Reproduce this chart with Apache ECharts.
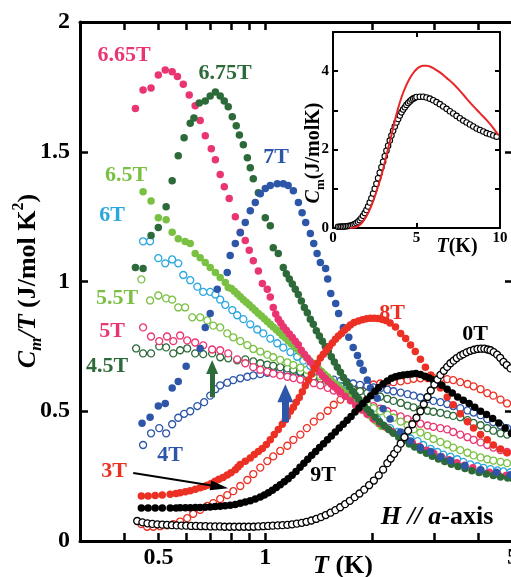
<!DOCTYPE html>
<html>
<head>
<meta charset="utf-8">
<script src="https://cdn.jsdelivr.net/npm/echarts@6/dist/echarts.min.js"></script>
<style>
html, body { margin: 0; padding: 0; background: #fff; }
#chart { width: 511px; height: 577px; }
</style>
</head>
<body>
<div id="chart"></div>
<script>
// Magnetic specific heat Cm/T versus T (log scale) for fields H // a-axis, [T (K), Cm/T (J/mol K^2)]
const h0T = [[0.435,0.077],[0.450,0.072],[0.465,0.068],[0.480,0.066],[0.496,0.064],[0.512,0.063],[0.528,0.062],[0.545,0.061],[0.562,0.060],[0.580,0.059],[0.598,0.059],[0.617,0.058],[0.637,0.058],[0.657,0.057],[0.678,0.057],[0.700,0.056],[0.722,0.056],[0.745,0.056],[0.768,0.055],[0.793,0.055],[0.818,0.055],[0.844,0.055],[0.871,0.055],[0.898,0.055],[0.927,0.055],[0.956,0.056],[0.987,0.057],[1.018,0.058],[1.050,0.059],[1.084,0.060],[1.118,0.061],[1.154,0.062],[1.190,0.064],[1.228,0.067],[1.267,0.070],[1.307,0.074],[1.349,0.079],[1.392,0.085],[1.436,0.092],[1.481,0.100],[1.528,0.109],[1.577,0.119],[1.627,0.130],[1.679,0.142],[1.732,0.155],[1.787,0.169],[1.844,0.183],[1.902,0.198],[1.963,0.215],[2.025,0.233],[2.090,0.253],[2.150,0.275],[2.210,0.300],[2.260,0.318],[2.310,0.336],[2.360,0.355],[2.410,0.375],[2.470,0.400],[2.530,0.425],[2.600,0.450],[2.670,0.475],[2.740,0.500],[2.800,0.527],[2.870,0.555],[2.930,0.580],[3.000,0.603],[3.060,0.622],[3.120,0.640],[3.190,0.656],[3.260,0.671],[3.330,0.685],[3.400,0.695],[3.470,0.705],[3.550,0.714],[3.620,0.720],[3.700,0.727],[3.790,0.733],[3.880,0.737],[3.970,0.740],[4.060,0.741],[4.150,0.741],[4.240,0.738],[4.320,0.735],[4.410,0.728],[4.510,0.718],[4.600,0.706],[4.700,0.690],[4.800,0.678],[4.920,0.665]];
const h3T = [[0.447,0.065],[0.464,0.055],[0.483,0.055],[0.505,0.057],[0.528,0.060],[0.550,0.065],[0.575,0.075],[0.602,0.088],[0.626,0.105],[0.655,0.120],[0.686,0.135],[0.713,0.146],[0.746,0.162],[0.781,0.177],[0.812,0.192],[0.850,0.212],[0.890,0.235],[0.925,0.258],[0.968,0.283],[1.013,0.308],[1.053,0.326],[1.102,0.347],[1.154,0.367],[1.200,0.390],[1.256,0.410],[1.310,0.435],[1.370,0.460],[1.430,0.480],[1.500,0.502],[1.560,0.525],[1.630,0.545],[1.700,0.562],[1.770,0.575],[1.850,0.588],[1.940,0.597],[2.020,0.603],[2.110,0.607],[2.210,0.610],[2.300,0.612],[2.410,0.615],[2.520,0.620],[2.620,0.625],[2.740,0.627],[2.870,0.628],[2.980,0.628],[3.120,0.626],[3.260,0.624],[3.390,0.620],[3.550,0.612],[3.720,0.605],[3.870,0.596],[4.050,0.585],[4.230,0.570],[4.400,0.560],[4.610,0.545],[4.810,0.530]];
const h4T = [[0.452,0.370],[0.476,0.415],[0.502,0.435],[0.525,0.415],[0.546,0.450],[0.568,0.475],[0.590,0.490],[0.614,0.500],[0.643,0.520],[0.672,0.535],[0.699,0.560],[0.723,0.585],[0.746,0.600],[0.781,0.610],[0.812,0.620],[0.850,0.627],[0.890,0.633],[0.925,0.638],[0.968,0.643],[1.013,0.648],[1.053,0.652],[1.102,0.655],[1.154,0.655],[1.200,0.652],[1.256,0.648],[1.310,0.643],[1.370,0.638],[1.430,0.632],[1.500,0.627],[1.560,0.622],[1.630,0.617],[1.700,0.612],[1.770,0.607],[1.850,0.602],[1.940,0.597],[2.020,0.592],[2.110,0.588],[2.210,0.583],[2.300,0.577],[2.410,0.572],[2.520,0.566],[2.620,0.560],[2.740,0.553],[2.870,0.547],[2.980,0.540],[3.120,0.535],[3.260,0.528],[3.390,0.520],[3.550,0.512],[3.720,0.503],[3.870,0.495],[4.050,0.485],[4.230,0.470],[4.400,0.458],[4.610,0.445],[4.810,0.435]];
const h45T = [[0.432,0.742],[0.452,0.723],[0.476,0.723],[0.502,0.750],[0.525,0.746],[0.550,0.723],[0.575,0.735],[0.602,0.742],[0.634,0.723],[0.668,0.720],[0.708,0.723],[0.746,0.708],[0.786,0.704],[0.833,0.696],[0.878,0.700],[0.925,0.692],[0.968,0.685],[1.013,0.680],[1.053,0.675],[1.102,0.670],[1.154,0.665],[1.200,0.660],[1.256,0.652],[1.310,0.643],[1.370,0.635],[1.430,0.625],[1.500,0.615],[1.560,0.605],[1.630,0.597],[1.700,0.590],[1.770,0.583],[1.850,0.577],[1.940,0.570],[2.020,0.563],[2.110,0.556],[2.210,0.548],[2.300,0.540],[2.410,0.532],[2.520,0.522],[2.620,0.515],[2.740,0.508],[2.870,0.502],[2.980,0.498],[3.120,0.494],[3.260,0.488],[3.390,0.482],[3.550,0.477],[3.720,0.466],[3.870,0.455],[4.050,0.446],[4.230,0.435],[4.400,0.425],[4.610,0.415],[4.810,0.410]];
const h5T = [[0.452,0.823],[0.476,0.788],[0.502,0.770],[0.528,0.788],[0.550,0.770],[0.575,0.792],[0.602,0.773],[0.634,0.765],[0.668,0.754],[0.708,0.738],[0.746,0.735],[0.786,0.723],[0.833,0.700],[0.878,0.685],[0.925,0.670],[0.968,0.660],[1.013,0.652],[1.053,0.645],[1.102,0.638],[1.154,0.633],[1.200,0.628],[1.256,0.622],[1.310,0.615],[1.370,0.608],[1.430,0.600],[1.500,0.590],[1.560,0.580],[1.630,0.570],[1.700,0.560],[1.770,0.550],[1.850,0.540],[1.940,0.530],[2.020,0.520],[2.110,0.510],[2.210,0.500],[2.300,0.490],[2.410,0.480],[2.520,0.470],[2.620,0.460],[2.740,0.452],[2.870,0.445],[2.980,0.440],[3.120,0.435],[3.260,0.430],[3.390,0.420],[3.550,0.410],[3.720,0.400],[3.870,0.390],[4.050,0.380],[4.230,0.370],[4.400,0.360],[4.610,0.350],[4.810,0.343]];
const h55T = [[0.447,1.008],[0.473,0.927],[0.499,0.946],[0.525,0.935],[0.546,0.930],[0.568,0.900],[0.594,0.900],[0.622,0.862],[0.655,0.862],[0.686,0.850],[0.713,0.830],[0.746,0.823],[0.781,0.800],[0.812,0.785],[0.850,0.770],[0.890,0.755],[0.925,0.740],[0.968,0.730],[1.013,0.718],[1.053,0.708],[1.102,0.698],[1.154,0.688],[1.200,0.678],[1.256,0.668],[1.310,0.660],[1.370,0.650],[1.430,0.635],[1.500,0.615],[1.560,0.600],[1.630,0.585],[1.700,0.570],[1.770,0.555],[1.850,0.540],[1.940,0.525],[2.020,0.512],[2.110,0.500],[2.210,0.487],[2.300,0.475],[2.410,0.460],[2.520,0.445],[2.620,0.430],[2.740,0.418],[2.870,0.405],[2.980,0.393],[3.120,0.382],[3.260,0.372],[3.390,0.360],[3.550,0.350],[3.720,0.340],[3.870,0.330],[4.050,0.322],[4.230,0.315],[4.400,0.310],[4.610,0.305],[4.810,0.300]];
const h6T = [[0.452,1.155],[0.473,1.155],[0.499,1.090],[0.522,1.070],[0.546,1.085],[0.568,1.070],[0.587,1.025],[0.614,1.005],[0.643,0.980],[0.668,0.960],[0.699,0.960],[0.723,0.950],[0.746,0.930],[0.771,0.910],[0.807,0.890],[0.833,0.870],[0.867,0.855],[0.907,0.835],[0.949,0.815],[0.987,0.800],[1.033,0.780],[1.081,0.762],[1.124,0.745],[1.177,0.728],[1.230,0.710],[1.280,0.695],[1.340,0.675],[1.400,0.655],[1.460,0.640],[1.530,0.620],[1.600,0.600],[1.660,0.580],[1.740,0.560],[1.820,0.540],[1.890,0.520],[1.980,0.495],[2.070,0.470],[2.150,0.445],[2.250,0.435],[2.360,0.420],[2.450,0.405],[2.570,0.395],[2.690,0.385],[2.790,0.370],[2.930,0.355],[3.060,0.343],[3.180,0.333],[3.330,0.325],[3.480,0.315],[3.620,0.305],[3.790,0.295],[3.970,0.288],[4.130,0.282],[4.320,0.277],[4.520,0.272],[4.700,0.268],[4.920,0.265]];
const h65T = [[0.452,1.346],[0.476,1.310],[0.499,1.246],[0.525,1.238],[0.546,1.190],[0.568,1.165],[0.594,1.154],[0.614,1.146],[0.634,1.108],[0.655,1.092],[0.677,1.073],[0.699,1.054],[0.723,1.035],[0.746,1.015],[0.771,0.996],[0.786,0.977],[0.802,0.973],[0.818,0.962],[0.834,0.952],[0.850,0.941],[0.867,0.930],[0.884,0.920],[0.901,0.910],[0.919,0.899],[0.937,0.888],[0.956,0.877],[0.975,0.867],[0.994,0.856],[1.013,0.846],[1.033,0.835],[1.053,0.825],[1.074,0.814],[1.095,0.803],[1.117,0.792],[1.139,0.782],[1.161,0.771],[1.184,0.760],[1.208,0.750],[1.232,0.739],[1.256,0.728],[1.281,0.718],[1.306,0.707],[1.332,0.697],[1.358,0.686],[1.385,0.675],[1.412,0.665],[1.440,0.654],[1.468,0.643],[1.497,0.633],[1.527,0.622],[1.557,0.611],[1.588,0.601],[1.619,0.590],[1.651,0.579],[1.684,0.569],[1.717,0.558],[1.751,0.547],[1.786,0.537],[1.821,0.526],[1.857,0.516],[1.894,0.505],[1.931,0.494],[1.969,0.484],[2.008,0.473],[2.048,0.462],[2.090,0.452],[2.130,0.441]];
const h665T = [[0.430,1.667],[0.452,1.738],[0.476,1.746],[0.499,1.796],[0.522,1.815],[0.546,1.808],[0.565,1.790],[0.587,1.760],[0.610,1.719],[0.634,1.677],[0.655,1.620],[0.677,1.562],[0.704,1.512],[0.723,1.469],[0.746,1.412],[0.766,1.365],[0.791,1.320],[0.823,1.250],[0.850,1.190],[0.878,1.158],[0.901,1.120],[0.925,1.080],[0.956,1.040],[0.981,0.992],[1.013,0.970],[1.033,0.940],[1.053,0.900],[1.070,0.875],[1.088,0.855],[1.106,0.840],[1.124,0.826],[1.146,0.812],[1.169,0.798],[1.192,0.784],[1.215,0.770],[1.239,0.756],[1.264,0.735],[1.289,0.720],[1.314,0.705],[1.340,0.690],[1.366,0.677],[1.393,0.664],[1.421,0.651],[1.449,0.638],[1.477,0.626],[1.506,0.615],[1.536,0.604],[1.566,0.594],[1.597,0.584],[1.629,0.574],[1.680,0.558],[1.740,0.540],[1.800,0.522],[1.870,0.505],[1.940,0.488],[2.020,0.470],[2.100,0.454],[2.190,0.438],[2.280,0.422],[2.380,0.407],[2.490,0.392],[2.600,0.378],[2.720,0.364],[2.850,0.350],[2.990,0.337],[3.140,0.325],[3.300,0.313],[3.470,0.302],[3.650,0.292],[3.850,0.282],[4.060,0.273],[4.290,0.265],[4.530,0.258],[4.780,0.252],[5.000,0.248]];
const h675T = [[0.430,1.054],[0.452,1.050],[0.476,1.177],[0.499,1.208],[0.525,1.288],[0.546,1.388],[0.568,1.485],[0.590,1.554],[0.614,1.610],[0.629,1.630],[0.651,1.688],[0.677,1.696],[0.699,1.715],[0.723,1.730],[0.746,1.715],[0.766,1.696],[0.786,1.673],[0.807,1.635],[0.828,1.600],[0.845,1.565],[0.867,1.527],[0.890,1.477],[0.907,1.438],[0.925,1.396],[0.956,1.342],[1.000,1.246],[1.033,1.215],[1.053,1.130],[1.088,1.108],[1.124,1.054],[1.146,1.030],[1.169,1.010],[1.192,0.990],[1.215,0.970],[1.239,0.950],[1.264,0.925],[1.289,0.900],[1.314,0.880],[1.340,0.855],[1.366,0.835],[1.393,0.810],[1.421,0.790],[1.449,0.770],[1.477,0.750],[1.506,0.730],[1.536,0.710],[1.566,0.690],[1.597,0.670],[1.629,0.650],[1.661,0.630],[1.694,0.612],[1.727,0.595],[1.761,0.578],[1.796,0.562],[1.831,0.548],[1.867,0.533],[1.904,0.520],[1.942,0.507],[1.980,0.494],[2.040,0.477],[2.100,0.460],[2.160,0.445],[2.230,0.430],[2.300,0.415],[2.380,0.400],[2.460,0.387],[2.550,0.374],[2.640,0.362],[2.740,0.350],[2.850,0.338],[2.960,0.327],[3.080,0.316],[3.210,0.306],[3.350,0.296],[3.500,0.287],[3.660,0.279],[3.830,0.271],[4.010,0.264],[4.200,0.258],[4.400,0.252],[4.610,0.247],[4.830,0.243],[5.000,0.240]];
const h7T = [[0.449,0.454],[0.473,0.477],[0.499,0.520],[0.522,0.530],[0.546,0.590],[0.568,0.615],[0.598,0.673],[0.655,0.742],[0.677,0.823],[0.699,0.877],[0.732,0.970],[0.781,1.035],[0.796,1.100],[0.823,1.146],[0.850,1.188],[0.878,1.227],[0.907,1.273],[0.937,1.304],[0.968,1.338],[1.000,1.358],[1.033,1.370],[1.081,1.377],[1.124,1.377],[1.160,1.370],[1.200,1.350],[1.240,1.304],[1.270,1.265],[1.300,1.227],[1.340,1.185],[1.370,1.146],[1.400,1.108],[1.430,1.073],[1.480,1.050],[1.500,1.010],[1.530,0.954],[1.580,0.915],[1.610,0.877],[1.660,0.823],[1.720,0.785],[1.770,0.746],[1.820,0.715],[1.850,0.685],[1.890,0.658],[1.940,0.620],[1.980,0.590],[2.070,0.550],[2.150,0.510],[2.250,0.470],[2.410,0.420],[2.570,0.385],[2.740,0.360],[2.930,0.345],[3.120,0.325],[3.330,0.310],[3.660,0.290],[4.050,0.275],[4.490,0.265],[4.920,0.255]];
const h8T = [[0.447,0.173],[0.467,0.173],[0.489,0.175],[0.512,0.177],[0.539,0.180],[0.560,0.183],[0.575,0.186],[0.595,0.190],[0.614,0.194],[0.635,0.199],[0.655,0.205],[0.672,0.210],[0.686,0.215],[0.704,0.222],[0.722,0.230],[0.740,0.238],[0.760,0.245],[0.781,0.254],[0.800,0.263],[0.823,0.275],[0.837,0.285],[0.850,0.295],[0.878,0.307],[0.907,0.320],[0.931,0.333],[0.956,0.345],[0.981,0.356],[1.007,0.372],[1.033,0.390],[1.060,0.410],[1.088,0.430],[1.117,0.450],[1.139,0.467],[1.154,0.480],[1.177,0.500],[1.200,0.515],[1.223,0.535],[1.247,0.553],[1.272,0.575],[1.297,0.598],[1.323,0.620],[1.349,0.643],[1.376,0.665],[1.403,0.685],[1.430,0.705],[1.458,0.720],[1.487,0.735],[1.516,0.750],[1.546,0.763],[1.577,0.777],[1.608,0.790],[1.640,0.800],[1.672,0.812],[1.705,0.822],[1.738,0.832],[1.780,0.842],[1.830,0.848],[1.880,0.853],[1.930,0.856],[1.980,0.858],[2.030,0.858],[2.080,0.857],[2.140,0.854],[2.190,0.850],[2.250,0.840],[2.330,0.825],[2.410,0.800],[2.490,0.780],[2.570,0.755],[2.650,0.730],[2.740,0.700],[2.830,0.670],[2.930,0.640],[3.020,0.615],[3.120,0.590],[3.260,0.555],[3.390,0.525],[3.550,0.490],[3.720,0.460],[3.870,0.435],[4.050,0.410],[4.230,0.390],[4.400,0.370],[4.610,0.355],[4.810,0.340]];
const h9T = [[0.447,0.127],[0.467,0.127],[0.489,0.127],[0.512,0.127],[0.539,0.127],[0.560,0.127],[0.575,0.128],[0.595,0.128],[0.614,0.128],[0.635,0.129],[0.655,0.129],[0.677,0.130],[0.699,0.131],[0.722,0.133],[0.746,0.134],[0.770,0.136],[0.796,0.138],[0.823,0.141],[0.850,0.145],[0.878,0.150],[0.907,0.155],[0.937,0.162],[0.968,0.170],[0.994,0.177],[1.020,0.186],[1.047,0.196],[1.074,0.206],[1.102,0.217],[1.131,0.228],[1.160,0.240],[1.190,0.253],[1.221,0.268],[1.253,0.284],[1.285,0.300],[1.318,0.315],[1.352,0.330],[1.387,0.345],[1.423,0.360],[1.460,0.375],[1.498,0.390],[1.536,0.405],[1.576,0.420],[1.617,0.435],[1.659,0.450],[1.702,0.465],[1.746,0.480],[1.791,0.497],[1.838,0.513],[1.885,0.530],[1.934,0.545],[1.984,0.560],[2.040,0.577],[2.090,0.592],[2.150,0.605],[2.210,0.617],[2.270,0.627],[2.330,0.633],[2.390,0.637],[2.450,0.640],[2.520,0.642],[2.590,0.644],[2.660,0.645],[2.740,0.642],[2.820,0.635],[2.900,0.628],[2.980,0.620],[3.060,0.610],[3.150,0.600],[3.260,0.585],[3.370,0.570],[3.490,0.555],[3.620,0.542],[3.760,0.530],[3.900,0.515],[4.050,0.500],[4.210,0.487],[4.380,0.472],[4.560,0.455],[4.750,0.435],[4.950,0.415]];

// Inset: Cm versus T at zero field (circles) and model curve (line), [T (K), Cm (J/mol K)]
const inset0T = [[0.3,0.03],[0.4,0.03],[0.5,0.035],[0.6,0.035],[0.7,0.04],[0.8,0.045],[0.9,0.05],[1.0,0.055],[1.1,0.065],[1.2,0.08],[1.3,0.1],[1.4,0.125],[1.5,0.16],[1.6,0.2],[1.7,0.25],[1.8,0.31],[1.9,0.38],[2.0,0.46],[2.1,0.55],[2.2,0.65],[2.3,0.76],[2.4,0.88],[2.5,1.0],[2.6,1.13],[2.7,1.27],[2.8,1.41],[2.9,1.55],[3.0,1.69],[3.1,1.83],[3.2,1.97],[3.3,2.1],[3.4,2.23],[3.5,2.36],[3.6,2.48],[3.7,2.59],[3.8,2.69],[3.9,2.78],[4.0,2.87],[4.1,2.95],[4.2,3.02],[4.3,3.08],[4.4,3.14],[4.5,3.19],[4.6,3.23],[4.7,3.27],[4.8,3.3],[4.9,3.32],[5.0,3.34],[5.2,3.35],[5.4,3.35],[5.6,3.33],[5.8,3.3],[6.0,3.26],[6.2,3.21],[6.4,3.16],[6.6,3.1],[6.8,3.04],[7.0,2.98],[7.2,2.92],[7.4,2.86],[7.6,2.8],[7.8,2.74],[8.0,2.69],[8.2,2.64],[8.4,2.59],[8.6,2.54],[8.8,2.5],[9.0,2.46],[9.2,2.42],[9.4,2.39],[9.6,2.36],[9.8,2.33]];
const insetModel = [[1.0,0],[1.2,0.01],[1.4,0.03],[1.6,0.08],[1.8,0.17],[2.0,0.3],[2.2,0.47],[2.4,0.68],[2.6,0.93],[2.8,1.2],[3.0,1.5],[3.2,1.85],[3.4,2.2],[3.6,2.55],[3.8,2.9],[4.0,3.2],[4.2,3.45],[4.4,3.65],[4.6,3.82],[4.8,3.95],[5.0,4.05],[5.2,4.11],[5.4,4.14],[5.6,4.14],[5.8,4.12],[6.0,4.08],[6.4,3.97],[6.8,3.83],[7.2,3.68],[7.6,3.5],[8.0,3.3],[8.4,3.11],[8.8,2.93],[9.2,2.75],[9.6,2.55],[9.9,2.37]];

// Axis ticks and labels
const xTickValues = [0.4, 0.5, 0.6, 0.7, 0.8, 0.9, 1, 2, 3, 4, 5];
const xLabelValues = [0.5, 1, 5];
const xRange = [0.3, 5];
const yRange = [0, 2];

const SERIF = "'Liberation Serif','Times New Roman',serif";
const C = {
  pink: '#ea3670', dkgreen: '#2d6a3a', ltgreen: '#7ac143', cyan: '#2aa7de',
  blue: '#2d56a8', red: '#ec3024', black: '#000000'
};

const lg = v => Math.log10(v);
const toLog = arr => arr.map(p => [lg(p[0]), p[1]]);

// draw order: open symbols, then filled, zero field on top
const fieldSeries = [
  { name: '3T', data: h3T, color: C.red, open: true },
  { name: '4T', data: h4T, color: C.blue, open: true },
  { name: '4.5T', data: h45T, color: C.dkgreen, open: true },
  { name: '5T', data: h5T, color: C.pink, open: true },
  { name: '5.5T', data: h55T, color: C.ltgreen, open: true },
  { name: '6T', data: h6T, color: C.cyan, open: true },
  { name: '6.5T', data: h65T, color: C.ltgreen, open: false },
  { name: '6.65T', data: h665T, color: C.pink, open: false },
  { name: '6.75T', data: h675T, color: C.dkgreen, open: false },
  { name: '7T', data: h7T, color: C.blue, open: false },
  { name: '8T', data: h8T, color: C.red, open: false },
  { name: '9T', data: h9T, color: C.black, open: false },
  { name: '0T', data: h0T, color: C.black, open: true }
];

// arrows, defined in data coordinates [T, Cm/T]
const arrows = {
  '3T': { from: [0.424, 0.262], to: [0.742, 0.209], color: '#000', width: 2, head: [10, 18] },
  '4.5T': { from: [0.708, 0.554], to: [0.708, 0.671], color: C.dkgreen, width: 5, head: [12, 14] },
  '4T': { from: [1.139, 0.458], to: [1.139, 0.569], color: C.blue, width: 7, head: [16, 18] }
};

const series = fieldSeries.map(s => {
  const o = {
    name: s.name,
    type: 'scatter',
    xAxisIndex: 0,
    yAxisIndex: 0,
    data: toLog(s.data),
    symbol: 'circle',
    symbolSize: s.open ? 7 : 7.5,
    itemStyle: s.open
      ? { color: '#fff', borderColor: s.color, borderWidth: 1.3, opacity: 1 }
      : { color: s.color, borderWidth: 0, opacity: 1 },
    silent: true
  };
  const a = arrows[s.name];
  if (a) {
    o.markLine = {
      silent: true,
      symbol: ['none', 'triangle'],
      symbolSize: a.head,
      label: { show: false },
      lineStyle: { color: a.color, width: a.width, type: 'solid', opacity: 1 },
      data: [[{ coord: [lg(a.from[0]), a.from[1]] }, { coord: [lg(a.to[0]), a.to[1]] }]]
    };
  }
  return o;
});

series.push({
  type: 'scatter', xAxisIndex: 2, yAxisIndex: 2, data: inset0T,
  symbol: 'circle', symbolSize: 5.5, silent: true,
  itemStyle: { color: '#fff', borderColor: '#000', borderWidth: 1.1, opacity: 1 }
});
series.push({
  type: 'line', xAxisIndex: 2, yAxisIndex: 2, data: insetModel,
  showSymbol: false, smooth: true, silent: true,
  lineStyle: { color: '#e8262a', width: 2 }
});

const mainTickStyle = { show: true, inside: true, length: 8, lineStyle: { color: '#000', width: 2.5 } };
const mainLine = { show: true, onZero: false, lineStyle: { color: '#000', width: 3 } };
const insetTick = { show: true, inside: true, length: 5, lineStyle: { color: '#000', width: 2 } };
const insetLine = { show: true, onZero: false, lineStyle: { color: '#000', width: 2 } };
const labelFont = { color: '#000', fontFamily: SERIF, fontWeight: 'bold' };

const xMain = {
  type: 'value', min: lg(xRange[0]), max: lg(xRange[1]),
  splitLine: { show: false }, axisLine: mainLine
};

const option = {
  animation: false,
  backgroundColor: '#fff',
  grid: [
    { left: 80, top: 22, width: 433, height: 519, containLabel: false, outerBoundsMode: 'none' },
    { left: 333, top: 32, width: 167, height: 196, containLabel: false, outerBoundsMode: 'none',
      show: true, backgroundColor: '#fff', borderWidth: 0 }
  ],
  xAxis: [
    Object.assign({}, xMain, {
      gridIndex: 0, position: 'bottom',
      axisTick: Object.assign({}, mainTickStyle, { customValues: xTickValues.map(lg) }),
      axisLabel: Object.assign({}, labelFont, {
        fontSize: 24, margin: 5,
        customValues: xLabelValues.map(lg),
        formatter: v => String(Math.round(Math.pow(10, v) * 10) / 10)
      })
    }),
    Object.assign({}, xMain, {
      gridIndex: 0, position: 'top',
      axisTick: Object.assign({}, mainTickStyle, { customValues: xTickValues.map(lg) }),
      axisLabel: { show: false }
    }),
    {
      type: 'value', gridIndex: 1, position: 'bottom', min: 0, max: 10, interval: 5,
      splitLine: { show: false }, axisLine: insetLine, axisTick: insetTick,
      axisLabel: Object.assign({}, labelFont, { fontSize: 15, margin: 3 })
    },
    {
      type: 'value', gridIndex: 1, position: 'top', min: 0, max: 10, interval: 5,
      splitLine: { show: false }, axisLine: insetLine, axisTick: insetTick,
      axisLabel: { show: false }
    }
  ],
  yAxis: [
    {
      type: 'value', gridIndex: 0, position: 'left', min: yRange[0], max: yRange[1], interval: 0.5,
      splitLine: { show: false }, axisLine: mainLine, axisTick: mainTickStyle,
      axisLabel: Object.assign({}, labelFont, { fontSize: 24, margin: 10 })
    },
    {
      type: 'value', gridIndex: 0, position: 'right', min: yRange[0], max: yRange[1], interval: 0.5,
      splitLine: { show: false }, axisLine: mainLine, axisTick: mainTickStyle,
      axisLabel: { show: false }
    },
    {
      type: 'value', gridIndex: 1, position: 'left', min: 0, max: 5, interval: 1,
      splitLine: { show: false }, axisLine: insetLine, axisTick: insetTick,
      axisLabel: Object.assign({}, labelFont, {
        fontSize: 15, margin: 4,
        formatter: v => (v % 2 === 0 ? String(v) : '')
      })
    },
    {
      type: 'value', gridIndex: 1, position: 'right', min: 0, max: 5, interval: 1,
      splitLine: { show: false }, axisLine: insetLine, axisTick: insetTick,
      axisLabel: { show: false }
    }
  ],
  series: series
};

// text annotations
function tag(text, x, y, color) {
  return {
    type: 'text', x: x, y: y, z: 10, silent: true,
    style: {
      text: text, fill: color, align: 'center', verticalAlign: 'middle',
      fontFamily: SERIF, fontWeight: 'bold', fontSize: 22
    }
  };
}
function richTok(size, italic, valign, lh) {
  const t = { fontFamily: SERIF, fontWeight: 'bold', fontSize: size, fill: '#000',
              fontStyle: italic ? 'italic' : 'normal', verticalAlign: valign || 'middle' };
  if (lh) t.lineHeight = lh;
  return t;
}

option.graphic = [
  tag('6.65T', 124, 55, C.pink),
  tag('6.75T', 225, 73, C.dkgreen),
  tag('7T', 276, 157, C.blue),
  tag('6.5T', 126, 175, C.ltgreen),
  tag('6T', 112, 215, C.cyan),
  tag('5.5T', 117, 298, C.ltgreen),
  tag('5T', 112, 331, C.pink),
  tag('4.5T', 107, 366, C.dkgreen),
  tag('4T', 170, 455, C.blue),
  tag('3T', 114, 471, C.red),
  tag('8T', 392, 313, C.red),
  tag('0T', 475, 334, C.black),
  tag('9T', 323, 475, C.black),
  {
    type: 'text', x: 28, y: 281, rotation: Math.PI / 2, z: 10, silent: true,
    style: {
      text: '{i|C}{s|m}{i|/T}{n| (J/mol K}{p|2}{n|)}',
      align: 'center', verticalAlign: 'middle', fill: '#000',
      fontFamily: SERIF, fontWeight: 'bold', fontSize: 26,
      rich: {
        i: richTok(26, true, 'middle', 34),
        n: richTok(26, false, 'middle', 34),
        s: richTok(17, true, 'bottom'),
        p: richTok(16, false, 'top')
      }
    }
  },
  {
    type: 'text', x: 343, y: 566, z: 10, silent: true,
    style: {
      text: '{i|T}{n| (K)}', align: 'center', verticalAlign: 'middle', fill: '#000',
      fontFamily: SERIF, fontWeight: 'bold', fontSize: 26,
      rich: { i: richTok(26, true), n: richTok(26, false) }
    }
  },
  {
    type: 'text', x: 437, y: 517, z: 10, silent: true,
    style: {
      text: '{i|H // a}{n|-axis}', align: 'center', verticalAlign: 'middle', fill: '#000',
      fontFamily: SERIF, fontWeight: 'bold', fontSize: 26,
      rich: { i: richTok(26, true), n: richTok(26, false) }
    }
  },
  {
    type: 'text', x: 314, y: 153, rotation: Math.PI / 2, z: 10, silent: true,
    style: {
      text: '{i|C}{s|m}{n|(J/molK)}', align: 'center', verticalAlign: 'middle', fill: '#000',
      fontFamily: SERIF, fontWeight: 'bold', fontSize: 20,
      rich: {
        i: richTok(20, true, 'middle', 26),
        n: richTok(20, false, 'middle', 26),
        s: richTok(13, false, 'bottom')
      }
    }
  },
  {
    type: 'text', x: 457, y: 247, z: 10, silent: true,
    style: {
      text: '{i|T}{n|(K)}', align: 'center', verticalAlign: 'middle', fill: '#000',
      fontFamily: SERIF, fontWeight: 'bold', fontSize: 20,
      rich: { i: richTok(20, true), n: richTok(20, false) }
    }
  }
];

const chart = echarts.init(document.getElementById('chart'), null, { renderer: 'canvas' });
chart.setOption(option);
</script>
</body>
</html>
